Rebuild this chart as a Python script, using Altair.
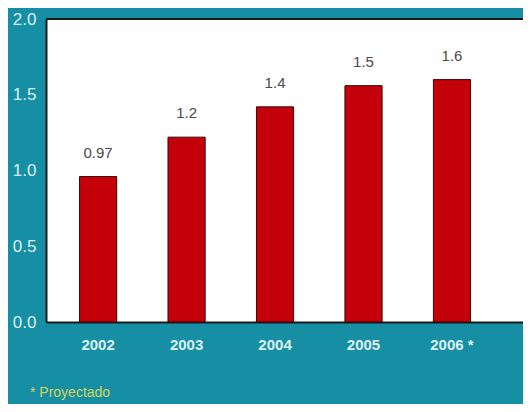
import altair as alt
import pandas as pd

years = ["2002", "2003", "2004", "2005", "2006 *"]
values = [0.96, 1.22, 1.42, 1.56, 1.60]
labels = ["0.97", "1.2", "1.4", "1.5", "1.6"]
y_ticks = [0.0, 0.5, 1.0, 1.5, 2.0]
note = "* Proyectado"

df = pd.DataFrame({"year": years, "value": values, "label": labels})

TEAL = "#168ea3"
LIGHT = "#dcf0f2"
DARK = "#1b1b1b"
FONT = "Liberation Sans"

x = alt.X(
    "year:N",
    sort=years,
    scale=alt.Scale(paddingInner=0.58, paddingOuter=0.486, align=0.39),
    axis=alt.Axis(
        title=None, labelAngle=0, labelColor=LIGHT, labelFontSize=15,
        labelFontWeight="bold", labelPadding=15, ticks=False,
        domainColor=DARK, domainWidth=2, labelFont=FONT,
    ),
)
y = alt.Y(
    "value:Q",
    scale=alt.Scale(domain=[0, 2], nice=False),
    axis=alt.Axis(
        title=None, values=y_ticks, format=".1f", ticks=False, grid=False,
        labelColor=LIGHT, labelFontSize=17, labelPadding=10, labelFont=FONT,
        domainColor=DARK, domainWidth=2,
    ),
)

base = alt.Chart(df)
bars = base.mark_bar(color="#c4000a", stroke="#3a0505", strokeWidth=1).encode(x=x, y=y)
text = base.mark_text(
    dy=-16, baseline="bottom", fontSize=15, color="#4a4a4a", font=FONT
).encode(x=x, y=y, text="label:N")

top = alt.Chart(pd.DataFrame({"v": [2.0]})).mark_rule(color=DARK, strokeWidth=2).encode(
    y=alt.Y("v:Q", scale=alt.Scale(domain=[0, 2], nice=False))
)

note_layer = alt.Chart(pd.DataFrame({"t": [note]})).mark_text(
    align="left", baseline="middle", color="#d2d65c", fontSize=14, font=FONT
).encode(text="t:N", x=alt.value(-16), y=alt.value(374))

chart = alt.layer(bars, text, top, note_layer).properties(
    width=477,
    height=303,
    background=TEAL,
    padding={"left": 38, "top": 11, "right": 0, "bottom": 82},
    autosize=alt.AutoSizeParams(type="none"),
).configure_view(stroke=None, fill="white")

chart.save("out.html", embed_options={"renderer": "svg", "actions": False})
